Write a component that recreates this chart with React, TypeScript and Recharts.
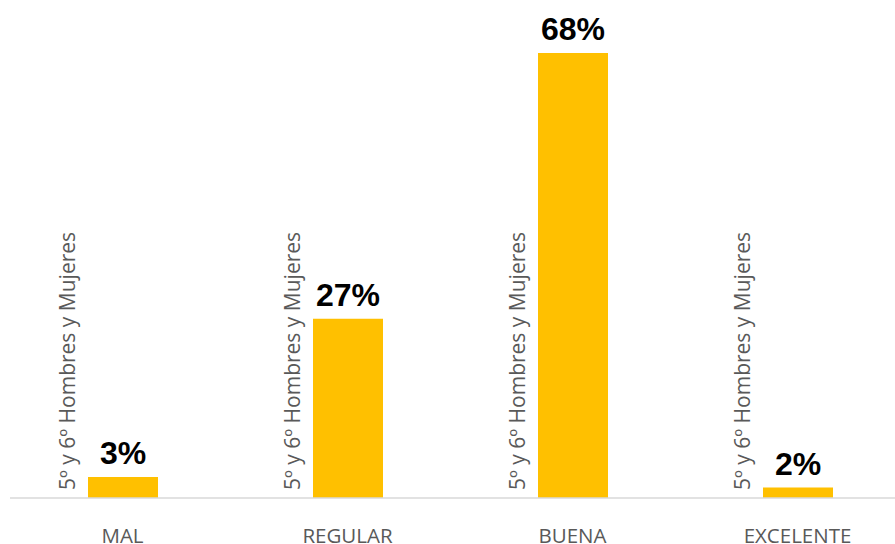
import { BarChart, Bar, XAxis, YAxis, LabelList } from "recharts";

const categories = ["MAL", "REGULAR", "BUENA", "EXCELENTE"];
const values = [3.2, 27.4, 68, 1.6];
const seriesName = "5º y 6º Hombres y Mujeres";

const data = categories.map((c, i) => ({ name: c, value: values[i] }));

function SeriesNameLabel(props: any) {
  const { x, y, height } = props;
  const cx = x - 21;
  const cy = y + height - 8;
  return (
    <text
      x={cx}
      y={cy}
      transform={`rotate(-90, ${cx}, ${cy})`}
      textAnchor="start"
      dominantBaseline="central"
      fill="#595959"
      fontSize={21}
      fontFamily="'Open Sans', sans-serif"
    >
      {seriesName}
    </text>
  );
}

export default function App() {
  return (
    <div style={{ position: "absolute", left: 0, top: 0, width: 895, height: 544, overflow: "hidden", background: "#fff" }}>
      <BarChart width={910} height={544} data={data} margin={{ top: 53, right: 0, left: 10, bottom: 0 }}>
        <XAxis
          dataKey="name"
          height={46}
          axisLine={{ stroke: "#d9d9d9", strokeWidth: 1.5 }}
          tickLine={false}
          tickMargin={24}
          tick={{ fill: "#595959", fontSize: 20.5, fontFamily: "'Open Sans', sans-serif" }}
        />
        <YAxis hide domain={[0, 68]} />
        <Bar dataKey="value" fill="#FFC000" barSize={70} isAnimationActive={false}>
          <LabelList dataKey="value" content={<SeriesNameLabel />} />
          <LabelList
            dataKey="value"
            position="top"
            offset={13}
            formatter={(v: any) => `${Math.round(v)}%`}
            style={{ fill: "#000", fontSize: 32, fontWeight: 700, fontFamily: "'Liberation Sans', Arial, sans-serif" }}
          />
        </Bar>
      </BarChart>
    </div>
  );
}
